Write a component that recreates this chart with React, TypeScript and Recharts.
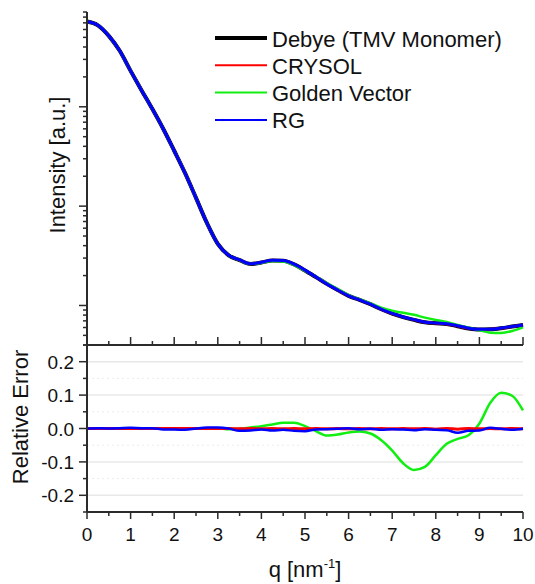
import { CartesianGrid, Line, LineChart, XAxis, YAxis } from "recharts";

const qValues = [
  0, 0.25, 0.5, 0.75, 1, 1.25, 1.5, 1.75, 2, 2.25, 2.5, 2.75, 3, 3.25, 3.5,
  3.75, 4, 4.25, 4.5, 4.75, 5, 5.25, 5.5, 5.75, 6, 6.25, 6.5, 6.75, 7, 7.25,
  7.5, 7.75, 8, 8.25, 8.5, 8.75, 9, 9.25, 9.5, 9.75, 10,
];

const debyeIntensity = [
  721, 661, 518, 366, 230, 147, 94.8, 59.8, 36.1, 21.5, 12.1, 6.77, 4.17, 3.2,
  2.86, 2.62, 2.71, 2.84, 2.82, 2.59, 2.25, 1.93, 1.65, 1.43, 1.25, 1.14, 1.03,
  0.916, 0.829, 0.764, 0.716, 0.677, 0.662, 0.651, 0.618, 0.587, 0.572, 0.576,
  0.591, 0.613, 0.636,
];

const crysolIntensity = [
  721, 661, 518, 366, 230, 147, 94.8, 59.8, 36.1, 21.5, 12.1, 6.77, 4.17, 3.2,
  2.86, 2.62, 2.71, 2.84, 2.82, 2.59, 2.25, 1.93, 1.65, 1.43, 1.25, 1.14, 1.03,
  0.916, 0.829, 0.764, 0.716, 0.677, 0.663, 0.652, 0.62, 0.588, 0.573, 0.576,
  0.591, 0.613, 0.636,
];

const goldenIntensity = [
  721, 661, 518, 366, 230, 147, 94.8, 59.8, 36.1, 21.5, 12.1, 6.77, 4.17, 3.21,
  2.86, 2.61, 2.69, 2.81, 2.77, 2.55, 2.23, 1.95, 1.68, 1.46, 1.27, 1.15, 1.05,
  0.948, 0.884, 0.843, 0.805, 0.755, 0.715, 0.681, 0.637, 0.599, 0.563, 0.532,
  0.528, 0.553, 0.602,
];

const rgIntensity = [
  721, 661, 518, 366, 230, 147, 94.8, 59.8, 36.1, 21.5, 12.1, 6.77, 4.17, 3.2,
  2.88, 2.63, 2.72, 2.86, 2.83, 2.61, 2.27, 1.94, 1.65, 1.43, 1.25, 1.14, 1.03,
  0.92, 0.831, 0.766, 0.72, 0.678, 0.665, 0.654, 0.626, 0.591, 0.575, 0.575,
  0.592, 0.615, 0.637,
];

const crysolError = [
  0, 0, 0, 0, 0, 0, 0, 0, 0, 0, 0, 0, 0, 0, -0.001, 0, -0.001, 0, -0.001, 0,
  -0.001, 0, -0.001, 0, -0.001, 0, -0.001, 0, -0.001, 0, -0.001, 0, -0.002, 0,
  -0.002, 0, -0.001, 0, -0.001, 0, -0.001,
];

const goldenError = [
  0, 0, 0, 0.001, 0, 0.001, 0, 0, 0.001, 0, 0.001, 0, 0.001, -0.002, -0.001,
  0.003, 0.007, 0.012, 0.017, 0.017, 0.007, -0.008, -0.021, -0.018, -0.012,
  -0.009, -0.015, -0.035, -0.066, -0.104, -0.124, -0.115, -0.08, -0.046,
  -0.031, -0.02, 0.015, 0.077, 0.107, 0.098, 0.054,
];

const rgError = [
  0, 0.001, 0, 0.001, 0.002, 0.001, 0.001, -0.003, -0.003, -0.004, 0, 0.003,
  0.003, 0, -0.007, -0.006, -0.003, -0.006, -0.004, -0.007, -0.008, -0.003,
  -0.002, -0.001, 0.001, -0.002, -0.001, -0.004, -0.002, -0.003, -0.005,
  -0.002, -0.004, -0.005, -0.013, -0.007, -0.006, 0.002, -0.001, -0.004,
  -0.001,
];

const qTicks = [
  0, 0.5, 1, 1.5, 2, 2.5, 3, 3.5, 4, 4.5, 5, 5.5, 6, 6.5, 7, 7.5, 8, 8.5, 9,
  9.5, 10,
];
const intensityTicks = [
  0.4, 0.5, 0.6, 0.7, 0.8, 0.9, 1, 2, 3, 4, 5, 6, 7, 8, 9, 10, 20, 30, 40, 50,
  60, 70, 80, 90, 100, 200, 300, 400, 500, 600, 700, 800, 900,
];
const intensityDecades = [1, 10, 100];
const errorTicks = [
  -0.25, -0.2, -0.15, -0.1, -0.05, 0, 0.05, 0.1, 0.15, 0.2, 0.25,
];
const errorMajor = [-0.2, -0.1, 0, 0.1, 0.2];
const errorMinor = [-0.15, -0.05, 0.05, 0.15];

const seriesNames = ["Debye (TMV Monomer)", "CRYSOL", "Golden Vector", "RG"];
const seriesColors = ["#000000", "#ff0000", "#11ee11", "#0000ff"];

const intensityData = qValues.map((q, i) => ({
  q,
  debye: debyeIntensity[i],
  crysol: crysolIntensity[i],
  golden: goldenIntensity[i],
  rg: rgIntensity[i],
}));

const errorData = qValues.map((q, i) => ({
  q,
  crysol: crysolError[i],
  golden: goldenError[i],
  rg: rgError[i],
}));

const FONT = '"Liberation Sans", Arial, sans-serif';
const AXIS = "#2b2b2b";

const isMajorError = (v: number) => errorMajor.some((m) => Math.abs(m - v) < 1e-9);

const App = () => {
  return (
    <div style={{ position: "absolute", left: 0, top: 0, width: 535, height: 584, background: "#fff" }}>
      <div style={{ position: "absolute", left: 0, top: 0 }}>
        <LineChart
          width={535}
          height={360}
          data={intensityData}
          margin={{ top: 12, right: 12, bottom: 5, left: 47 }}
        >
          <XAxis
            dataKey="q"
            type="number"
            domain={[0, 10]}
            ticks={qTicks}
            interval={0}
            height={10}
            tickSize={0}
            tickMargin={0}
            tickLine={false}
            axisLine={{ stroke: AXIS, strokeWidth: 2 }}
            tick={(p: any) => {
              const len = Number.isInteger(p.payload.value) ? 8 : 4;
              return <line x1={p.x} x2={p.x} y1={p.y} y2={p.y - len} stroke={AXIS} strokeWidth={1.5} />;
            }}
          />
          <YAxis
            type="number"
            scale="log"
            domain={[0.4, 900]}
            allowDataOverflow
            ticks={intensityTicks}
            interval={0}
            width={40}
            tickSize={0}
            tickMargin={0}
            tickLine={false}
            axisLine={{ stroke: AXIS, strokeWidth: 2 }}
            tick={(p: any) => {
              const len = intensityDecades.includes(p.payload.value) ? 8 : 4;
              return <line x1={p.x} x2={p.x - len} y1={p.y} y2={p.y} stroke={AXIS} strokeWidth={1.5} />;
            }}
          />
          <Line type="monotone" dataKey="debye" stroke={seriesColors[0]} strokeWidth={4} dot={false} isAnimationActive={false} />
          <Line type="monotone" dataKey="crysol" stroke={seriesColors[1]} strokeWidth={2.5} dot={false} isAnimationActive={false} />
          <Line type="monotone" dataKey="golden" stroke={seriesColors[2]} strokeWidth={2.5} dot={false} isAnimationActive={false} />
          <Line type="monotone" dataKey="rg" stroke={seriesColors[3]} strokeWidth={3} dot={false} isAnimationActive={false} />
        </LineChart>
      </div>

      <div style={{ position: "absolute", left: 0, top: 335 }}>
        <LineChart
          width={535}
          height={249}
          data={errorData}
          margin={{ top: 10, right: 12, bottom: 10, left: 27 }}
        >
          <CartesianGrid vertical={false} horizontalValues={errorMajor} stroke="#e8e8e8" strokeWidth={1.5} />
          <CartesianGrid vertical={false} horizontalValues={errorMinor} stroke="#ececec" strokeDasharray="2 3" />
          <XAxis
            dataKey="q"
            type="number"
            domain={[0, 10]}
            ticks={qTicks}
            interval={0}
            height={62}
            tickSize={0}
            tickMargin={0}
            tickLine={false}
            axisLine={{ stroke: AXIS, strokeWidth: 2 }}
            tick={(p: any) => {
              const major = Number.isInteger(p.payload.value);
              return (
                <g>
                  <line x1={p.x} x2={p.x} y1={p.y} y2={p.y + (major ? 7 : 4)} stroke={AXIS} strokeWidth={1.5} />
                  {major && (
                    <text x={p.x} y={p.y + 29} textAnchor="middle" fontSize={19} fontFamily={FONT} fill="#111">
                      {p.payload.value}
                    </text>
                  )}
                </g>
              );
            }}
          />
          <YAxis
            type="number"
            domain={[-0.25, 0.25]}
            ticks={errorTicks}
            interval={0}
            width={60}
            tickSize={0}
            tickMargin={0}
            tickLine={false}
            axisLine={{ stroke: AXIS, strokeWidth: 2 }}
            tick={(p: any) => {
              const major = isMajorError(p.payload.value);
              return (
                <g>
                  <line x1={p.x} x2={p.x - (major ? 8 : 4)} y1={p.y} y2={p.y} stroke={AXIS} strokeWidth={1.5} />
                  {major && (
                    <text x={p.x - 13} y={p.y + 7} textAnchor="end" fontSize={19} fontFamily={FONT} fill="#111">
                      {Number(p.payload.value).toFixed(1)}
                    </text>
                  )}
                </g>
              );
            }}
          />
          <Line type="monotone" dataKey="golden" stroke={seriesColors[2]} strokeWidth={2.5} dot={false} isAnimationActive={false} />
          <Line type="monotone" dataKey="crysol" stroke={seriesColors[1]} strokeWidth={3} dot={false} isAnimationActive={false} />
          <Line type="monotone" dataKey="rg" stroke={seriesColors[3]} strokeWidth={2.5} dot={false} isAnimationActive={false} />
        </LineChart>
      </div>

      <svg
        width={535}
        height={584}
        style={{ position: "absolute", left: 0, top: 0, pointerEvents: "none" }}
        fontFamily={FONT}
      >
        <text transform="translate(65,165) rotate(-90)" textAnchor="middle" fontSize={22} fill="#111">
          Intensity [a.u.]
        </text>
        <text transform="translate(28,417) rotate(-90)" textAnchor="middle" fontSize={22} fill="#111">
          Relative Error
        </text>
        <text x={305} y={577} textAnchor="middle" fontSize={22} fill="#111">
          q [nm
          <tspan dy={-9} fontSize={13}>-1</tspan>
          <tspan dy={9}>]</tspan>
        </text>
        {seriesNames.map((name, i) => (
          <g key={name}>
            <line
              x1={215}
              x2={267}
              y1={38 + i * 27.3}
              y2={38 + i * 27.3}
              stroke={seriesColors[i]}
              strokeWidth={i === 0 ? 4 : 2}
            />
            <text x={272} y={46.5 + i * 27.2} fontSize={22} fill="#111">
              {name}
            </text>
          </g>
        ))}
      </svg>
    </div>
  );
};

export default App;
